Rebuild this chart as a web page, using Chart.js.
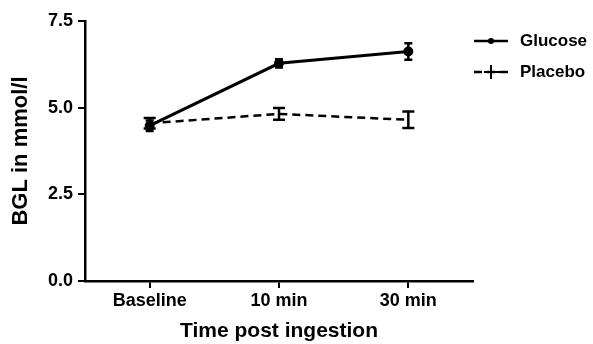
<!DOCTYPE html>
<html>
<head>
<meta charset="utf-8">
<script src="https://cdn.jsdelivr.net/npm/chart.js@4"></script>
<style>
  html, body { margin: 0; padding: 0; background: #fff; }
  #wrap { width: 593px; height: 344px; }
</style>
</head>
<body>
<div id="wrap"><canvas id="bglChart" width="593" height="344"></canvas></div>
<script>
// data
const timepoints = ["Baseline", "10 min", "30 min"];
const glucoseMean = [4.48, 6.28, 6.62];
const glucoseErr = [0.15, 0.12, 0.24];
const placeboMean = [4.55, 4.82, 4.65];
const placeboErr = [0.15, 0.17, 0.24];
const yTicks = [0, 2.5, 5.0, 7.5];

const FONT = "'Liberation Sans', Arial, sans-serif";

/* error bars + legend drawn on top of the chart */
const errorBars = {
  id: "errorBars",
  afterDatasetsDraw(chart) {
    const ctx = chart.ctx;
    const x = chart.scales.x, y = chart.scales.y;
    chart.data.datasets.forEach(ds => {
      ctx.save();
      ctx.strokeStyle = "#000";
      ctx.lineWidth = 2.5;
      ds.data.forEach((v, i) => {
        const px = x.getPixelForValue(i);
        const top = y.getPixelForValue(v + ds.err[i]);
        const bot = y.getPixelForValue(v - ds.err[i]);
        const cap = ds.capWidth;
        ctx.beginPath();
        ctx.moveTo(px, top); ctx.lineTo(px, bot);
        ctx.moveTo(px - cap, top); ctx.lineTo(px + cap, top);
        ctx.moveTo(px - cap, bot); ctx.lineTo(px + cap, bot);
        ctx.stroke();
      });
      ctx.restore();
    });
  },
  afterDraw(chart) {
    const ctx = chart.ctx;
    ctx.save();
    ctx.strokeStyle = "#000";
    ctx.fillStyle = "#000";
    ctx.font = "bold 17px " + FONT;
    ctx.textBaseline = "middle";
    chart.data.datasets.forEach((ds, i) => {
      const yy = 41 + i * 31;
      ctx.lineWidth = 2.5;
      ctx.setLineDash(ds.borderDash || []);
      ctx.beginPath();
      ctx.moveTo(474, yy); ctx.lineTo(508, yy);
      ctx.stroke();
      ctx.setLineDash([]);
      if (ds.legendMark === "dot") {
        ctx.beginPath();
        ctx.arc(491, yy, 3, 0, Math.PI * 2);
        ctx.fill();
      } else {
        ctx.lineWidth = 2;
        ctx.beginPath();
        ctx.moveTo(491, yy - 7); ctx.lineTo(491, yy + 7);
        ctx.moveTo(484, yy); ctx.lineTo(508, yy);
        ctx.stroke();
      }
      ctx.fillText(ds.label, 520, yy);
    });
    ctx.restore();
  }
};

new Chart(document.getElementById("bglChart"), {
  type: "line",
  data: {
    labels: timepoints,
    datasets: [
      {
        label: "Glucose",
        data: glucoseMean,
        err: glucoseErr,
        capWidth: 4,
        legendMark: "dot",
        borderColor: "#000",
        backgroundColor: "#000",
        borderWidth: 3,
        pointRadius: 3.5,
        pointBackgroundColor: "#000",
        tension: 0
      },
      {
        label: "Placebo",
        data: placeboMean,
        err: placeboErr,
        capWidth: 6,
        legendMark: "cross",
        borderColor: "#000",
        borderWidth: 2.5,
        borderDash: [8, 5],
        pointRadius: 0,
        tension: 0
      }
    ]
  },
  options: {
    responsive: false,
    animation: false,
    layout: { padding: { top: 21, right: 120, left: 0, bottom: 0 } },
    plugins: {
      legend: { display: false },
      tooltip: { enabled: false }
    },
    scales: {
      x: {
        offset: true,
        grid: { drawOnChartArea: false, color: "#000", lineWidth: 2, tickLength: 7 },
        border: { color: "#000", width: 2.5 },
        ticks: { color: "#000", font: { family: FONT, size: 18, weight: "bold" }, padding: 2 },
        title: {
          display: true,
          text: "Time post ingestion",
          color: "#000",
          font: { family: FONT, size: 21, weight: "bold" },
          padding: { top: 0, bottom: 0 }
        },
        afterFit(s) { s.height = 63; }
      },
      y: {
        min: 0,
        max: 7.5,
        afterBuildTicks(s) { s.ticks = yTicks.map(v => ({ value: v })); },
        grid: { drawOnChartArea: false, color: "#000", lineWidth: 2, tickLength: 7 },
        border: { color: "#000", width: 2.5 },
        ticks: {
          color: "#000",
          font: { family: FONT, size: 18, weight: "bold" },
          padding: 5,
          callback: v => Number(v).toFixed(1)
        },
        title: {
          display: true,
          text: "BGL in mmol/l",
          color: "#000",
          font: { family: FONT, size: 22, weight: "bold" },
          padding: { top: 8, bottom: 0 }
        },
        afterFit(s) { s.width = 85; }
      }
    }
  },
  plugins: [errorBars]
});
</script>
</body>
</html>
